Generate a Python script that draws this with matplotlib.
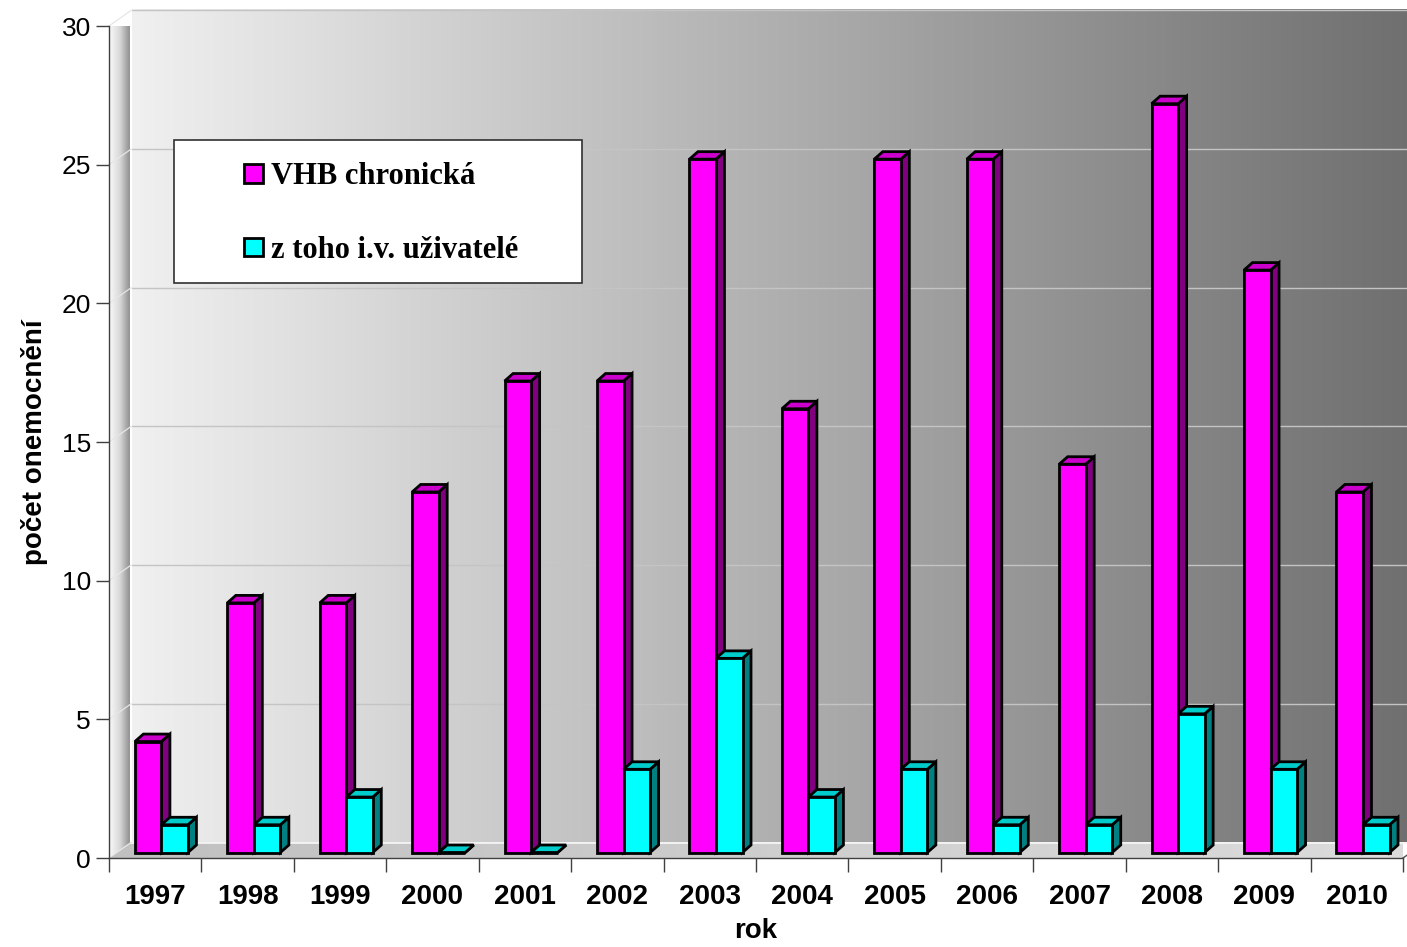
import numpy as np
import matplotlib
matplotlib.use("Agg")
import matplotlib.pyplot as plt
from matplotlib.colors import LinearSegmentedColormap
from matplotlib.patches import Polygon, Rectangle

plt.rcParams['font.family'] = ['Liberation Sans', 'DejaVu Sans']

# ---- data ----
years = ['1997', '1998', '1999', '2000', '2001', '2002', '2003',
         '2004', '2005', '2006', '2007', '2008', '2009', '2010']
vhb_chronic = [4, 9, 9, 13, 17, 17, 25, 16, 25, 25, 14, 27, 21, 13]
iv_users = [1, 1, 2, 0, 0, 3, 7, 2, 3, 1, 1, 5, 3, 1]
series_labels = ['VHB chronická', 'z toho i.v. uživatelé']
y_label = 'počet onemocnění'
x_label = 'rok'
y_ticks = [0, 5, 10, 15, 20, 25, 30]

# ---- layout ----
W_PX, H_PX = 1407, 947
fig = plt.figure(figsize=(W_PX / 100, H_PX / 100), dpi=100, facecolor='white')
ax_l, ax_r, ax_t, ax_b = 109, 1403, 26, 858
ax = fig.add_axes([ax_l / W_PX, (H_PX - ax_b) / H_PX,
                   (ax_r - ax_l) / W_PX, (ax_b - ax_t) / H_PX])
n = len(years)
YMAX = 30
ax.set_xlim(0, n)
ax.set_ylim(0, YMAX)
ax.patch.set_visible(False)

PX = n / (ax_r - ax_l)      # category units per pixel
PY = YMAX / (ax_b - ax_t)   # value units per pixel
DX, DY = 22 * PX, 15.5 * PY          # wall depth
BDX, BDY = 8.5 * PX, 7.5 * PY        # bar depth
BASE = 5.5 * PY
BW = 0.287
OFF1, OFF2 = 0.28, 0.567
EDGE_LW = 2.0

# back wall gradient
wall_cmap = LinearSegmentedColormap.from_list('wall', ['#f0f0f0', '#6e6e6e'])
im = ax.imshow(np.linspace(0, 1, 256)[None, :], cmap=wall_cmap, aspect='auto',
               extent=(DX, n + DX, DY, YMAX + DY), zorder=0, interpolation='bilinear')
im.set_clip_on(False)

# back wall gridlines
for v in y_ticks[1:]:
    ax.plot([DX, n + DX], [v + DY, v + DY], color='#c4c4c4', lw=1.0,
            zorder=0.5, clip_on=False)

# side wall: vertical strips with a light-to-dark gradient
side_cmap = LinearSegmentedColormap.from_list('side', ['#fafafa', '#dadada', '#888888'])
NS = 22
for k in range(NS):
    a0, a1 = k / NS * DX, (k + 1) / NS * DX
    c = side_cmap((k + 0.5) / NS)
    strip = Polygon([(a0, a0 / DX * DY), (a1, a1 / DX * DY),
                     (a1, YMAX + a1 / DX * DY), (a0, YMAX + a0 / DX * DY)],
                    closed=True, fc=c, ec=c, lw=0.3, zorder=1)
    ax.add_patch(strip)
ax.plot([DX, DX], [DY, YMAX + DY], color='white', lw=1.5, zorder=1.2, clip_on=False)
for v in y_ticks:
    ax.plot([0, DX], [v, v + DY], color='#e6e6e6', lw=0.9, zorder=1.5, clip_on=False)

# floor
floor_cmap = LinearSegmentedColormap.from_list('floor', ['#c0c0c0', '#dcdcdc'])
floor_poly = Polygon([(0, 0), (n, 0), (n + DX, DY), (DX, DY)], closed=True,
                     fc='none', ec='none', transform=ax.transData)
im3 = ax.imshow(np.linspace(0, 1, 256)[None, :], cmap=floor_cmap, aspect='auto',
                extent=(0, n + DX, 0, DY), zorder=1, interpolation='bilinear')
im3.set_clip_path(floor_poly)
ax.plot([DX, n + DX], [DY, DY], color='#f4f4f4', lw=1.3, zorder=1.3, clip_on=False)
ax.plot([n, n + DX], [0, DY], color='#505050', lw=1.0, zorder=1.3, clip_on=False)

ax.set_xlim(0, n)
ax.set_ylim(0, YMAX)

# bars
x = np.arange(n)
styles = [
    dict(front='#ff00ff', top='#cc00cc', side='#800080', off=OFF1, z=3.0),
    dict(front='#00ffff', top='#00cccc', side='#008080', off=OFF2, z=3.4),
]
handles = []
for vals, st in zip([vhb_chronic, iv_users], styles):
    lefts = x + st['off']
    bars = ax.bar(lefts, vals, BW, bottom=BASE, align='edge', color=st['front'],
                  edgecolor='black', linewidth=EDGE_LW, zorder=st['z'] + 0.2)
    handles.append(bars)
    for x0, v in zip(lefts, vals):
        x1 = x0 + BW
        top = BASE + v
        side = Polygon([(x1, BASE), (x1 + BDX, BASE + BDY), (x1 + BDX, top + BDY), (x1, top)],
                       closed=True, fc=st['side'], ec='black', lw=EDGE_LW, zorder=st['z'],
                       joinstyle='miter')
        topf = Polygon([(x0, top), (x1, top), (x1 + BDX, top + BDY), (x0 + BDX, top + BDY)],
                       closed=True, fc=st['top'], ec='black', lw=EDGE_LW, zorder=st['z'],
                       joinstyle='miter')
        ax.add_patch(side)
        ax.add_patch(topf)

# axes, ticks
for s in ['top', 'right']:
    ax.spines[s].set_visible(False)
for s in ['left', 'bottom']:
    ax.spines[s].set_color('#404040')
    ax.spines[s].set_linewidth(1.0)
    ax.spines[s].set_zorder(2.5)

ax.set_yticks(y_ticks)
ax.set_yticklabels([str(t) for t in y_ticks])
ax.tick_params(axis='y', length=9.4, width=1.0, color='#404040', pad=3.6, labelsize=19)

ax.set_xticks(np.arange(n + 1))
ax.set_xticklabels([])
ax.set_xticks(x + 0.5, minor=True)
ax.set_xticklabels(years, minor=True, fontweight='bold')
ax.tick_params(axis='x', which='major', length=10, width=1.0, color='#404040')
ax.tick_params(axis='x', which='minor', length=0, pad=19, labelsize=20)

ax.set_ylabel(y_label, fontsize=20, fontweight='bold', va='center')
ax.yaxis.set_label_coords((35 - ax_l) / (ax_r - ax_l), 0.5)
ax.set_xlabel(x_label, fontsize=20, fontweight='bold', va='center')
ax.xaxis.set_label_coords(0.5, (ax_b - 931) / (ax_b - ax_t))

# legend
lx0, ly0, lx1, ly1 = 174, 140, 582, 283
box = Rectangle((lx0 / W_PX, (H_PX - ly1) / H_PX), (lx1 - lx0) / W_PX, (ly1 - ly0) / H_PX,
                transform=fig.transFigure, fc='white', ec='#303030', lw=1.2, zorder=5)
fig.add_artist(box)
leg = fig.legend(handles, series_labels, loc='center',
                 bbox_to_anchor=(381 / W_PX, (H_PX - 213.5) / H_PX),
                 bbox_transform=fig.transFigure, frameon=False,
                 prop=dict(family='Liberation Serif', weight='bold', size=22),
                 handlelength=0.62, handleheight=0.56, handletextpad=0.28,
                 labelspacing=1.45, borderpad=0)
leg.set_zorder(6)

fig.savefig('out.png', dpi=100, facecolor='white')
